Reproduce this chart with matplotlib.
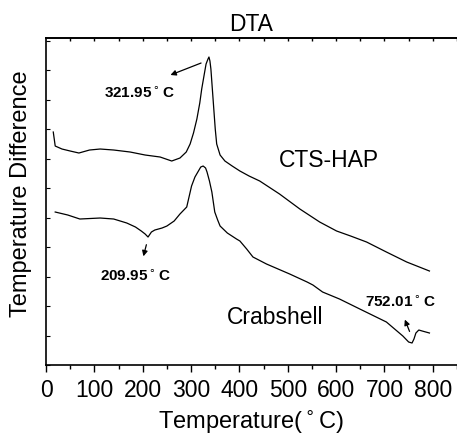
import numpy as np
import matplotlib.pyplot as plt

plt.rcParams['font.family'] = ['Liberation Sans', 'DejaVu Sans']

# CTS-HAP curve (temperature, arbitrary DTA signal)
t_hap = [15, 19, 33, 50, 68, 90, 112, 140, 174, 205, 236, 260, 277, 290, 298, 305, 312, 318,
         322, 327, 331, 335, 337, 339, 341, 344, 347, 350, 353, 360, 370, 385, 401, 420, 442,
         483, 525, 566, 601, 630, 663, 704, 746, 793]
y_hap = [233, 219, 216, 214, 212, 215, 216, 215, 213, 210, 208, 204, 207, 213, 221, 232, 246, 262,
         276, 290, 301, 306, 308, 304, 296, 276, 256, 236, 221, 210, 204, 199, 194, 189, 184,
         171, 156, 143, 134, 129, 123, 113, 103, 94]

# Crabshell curve
t_crab = [19, 45, 70, 112, 140, 167, 185, 197, 205, 211, 218, 225, 240, 250, 265, 277, 291, 301,
          308, 314, 320, 325, 330, 333, 338, 343, 349, 355, 360, 375, 394, 401, 415, 428, 456,
          504, 540, 552, 572, 607, 649, 704, 738, 750, 757, 761, 765, 771, 778, 793]
y_crab = [153, 150, 146, 147, 146, 142, 138, 134, 131, 128, 133, 135, 137, 139, 144, 151, 158, 179,
          188, 193, 198, 199, 197, 193, 184, 173, 153, 145, 139, 132, 126, 124, 116, 108, 101,
          91, 83, 80, 73, 66, 56, 43, 29, 23, 22, 26, 32, 35, 34, 32]

# annotations: label, text position, arrow start, arrow end
notes = [('321.95$^\\circ$C', (194, 273), (326, 303), (252, 289)),
         ('209.95$^\\circ$C', (184, 90), (209, 123), (200, 106)),
         ('752.01$^\\circ$C', (732, 64), (754, 31), (740, 48))]

fig = plt.figure(figsize=(4.57, 4.35), dpi=100)
ax = fig.add_axes([0.1007, 0.1586, 0.8993, 0.7517])

ax.plot(t_hap, y_hap, color='black', linewidth=0.9)
ax.plot(t_crab, y_crab, color='black', linewidth=0.9)

for label, txt, a0, a1 in notes:
    ax.text(txt[0], txt[1], label, fontsize=11, fontweight='bold', ha='center', va='center')
    ax.annotate('', xy=a1, xytext=a0,
                arrowprops=dict(arrowstyle='-|>', color='black', lw=0.9, mutation_scale=8))

ax.text(585, 206, 'CTS-HAP', fontsize=16.5, ha='center', va='center')
ax.text(474, 49, 'Crabshell', fontsize=16.5, ha='center', va='center')

ax.set_xlim(0, 850)
ax.set_ylim(0, 327)
ax.set_xticks(np.arange(0, 801, 100))
ax.set_xticks(np.arange(50, 851, 50), minor=True)
ax.set_yticks(np.arange(0, 327, 29.5))
ax.set_yticklabels([])
ax.tick_params(axis='x', which='major', direction='out', length=5, width=1, labelsize=16.5, pad=4)
ax.tick_params(axis='x', which='minor', direction='out', length=3, width=1)
ax.tick_params(axis='y', which='major', direction='in', length=3, width=0.8)
ax.spines['right'].set_visible(False)
for s in ['left', 'bottom', 'top']:
    ax.spines[s].set_linewidth(1.2)

# small inward ticks along the top spine
top = ax.secondary_xaxis('top')
top.set_xticks(np.arange(50, 851, 50))
top.set_xticklabels([])
top.tick_params(direction='in', length=2.5, width=1)
top.spines['top'].set_linewidth(1.2)

ax.set_xlabel('Temperature($^\\circ$C)', fontsize=17, labelpad=5)
ax.set_ylabel('Temperature Difference', fontsize=17)
ax.yaxis.set_label_coords(-0.034, 0.526)
ax.set_title('DTA', fontsize=16.5, pad=6)

fig.savefig('out.png', dpi=100)
